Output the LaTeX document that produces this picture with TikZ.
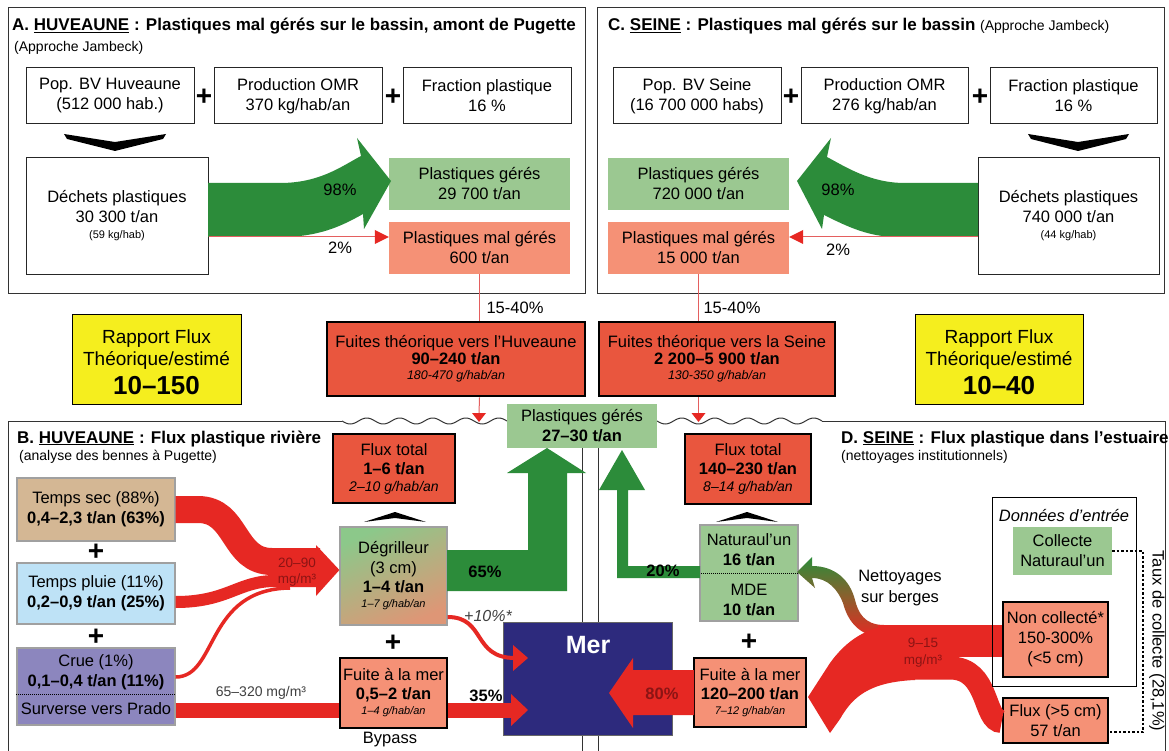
\documentclass[tikz,border=0pt]{standalone}
\usepackage{fontspec}
\setmainfont{Liberation Sans}
\usetikzlibrary{calc}
\definecolor{dgreen}{RGB}{44,140,58}
\definecolor{lgreen}{RGB}{155,200,145}
\definecolor{salmon}{RGB}{245,145,118}
\definecolor{fred}{RGB}{233,86,62}
\definecolor{rflow}{RGB}{230,40,35}
\definecolor{lred}{RGB}{228,95,95}
\definecolor{yel}{RGB}{245,238,30}
\definecolor{merblue}{RGB}{45,42,125}
\definecolor{tanc}{RGB}{212,183,148}
\definecolor{lblue}{RGB}{190,226,246}
\definecolor{lav}{RGB}{140,134,190}
\definecolor{dred}{RGB}{140,20,20}
\definecolor{gbord}{RGB}{160,160,160}
\definecolor{dtop}{RGB}{140,200,138}
\definecolor{dbot}{RGB}{222,150,118}
\newcommand\FS[2]{\fontsize{#1}{#2}\selectfont}
\newcommand\PB[7]{\node[#2, minimum width={#5-#3}, minimum height={#6-#4}] (#1) at ({(#3+#5)/2},{(#4+#6)/2}) {#7};}
\tikzset{
  basetxt/.style={inner sep=0pt, align=center, font=\FS{16.5}{20}},
  wbox/.style={basetxt, draw=black!85, line width=1pt, fill=white},
  gbox/.style={basetxt, fill=lgreen},
  sbox/.style={basetxt, fill=salmon},
  kbox/.style={basetxt, draw=black, line width=2.6pt, fill=fred},
  ksal/.style={basetxt, draw=black, line width=2.6pt, fill=salmon},
  ybox/.style={basetxt, draw=black, line width=1pt, fill=yel},
  cbox/.style={basetxt, draw=gbord, line width=1.2pt},
  lbl/.style={inner sep=0pt, font=\FS{16.5}{20}},
  pct/.style={inner sep=0pt, font=\FS{16.5}{20}\bfseries},
  plus/.style={inner sep=0pt, font=\FS{28}{30}\bfseries},
  ttl/.style={inner sep=0pt, anchor=base west, font=\FS{17}{20}\bfseries},
  subt/.style={inner sep=0pt, anchor=base west, font=\FS{14}{16}},
  bord/.style={draw=black!80, line width=1pt},
  thinred/.style={draw=lred, line width=1pt},
  small/.style={inner sep=0pt, font=\FS{13.5}{15}},
}
\begin{document}
\begin{tikzpicture}[x=1pt,y=-1pt]
\path[use as bounding box, fill=white] (0,0) rectangle (1169,751);

% ---------- panels A and C
\draw[bord] (8,8) rectangle (585,293);
\draw[bord] (597,8) rectangle (1164,293);

% ---------- Panel A
\node[ttl] (tA) at (12,31) {A. \underline{HUVEAUNE} : Plastiques mal gérés sur le bassin, amont de Pugette};
\node[subt] (sA) at (14,52) {(Approche Jambeck)};
\PB{popA}{wbox}{26}{68}{194}{124}{Pop. BV Huveaune\\(512 000 hab.)}
\PB{omrA}{wbox}{214}{68}{382}{124}{Production OMR\\370 kg/hab/an}
\PB{fracA}{wbox}{403}{68}{571}{124}{Fraction plastique\\16 \%}
\node[plus] (pA1) at (204,97) {+};
\node[plus] (pA2) at (393,97) {+};
\fill (64,134) -- (115,142) -- (166,134) -- (163,139) -- (115,151) -- (67,139) -- cycle;
\PB{decA}{wbox}{26}{158}{208}{274}{Déchets plastiques\\30 300 t/an\\[-4pt]{\FS{11}{13}(59 kg/hab)}}
\PB{gerA}{gbox}{389}{158}{570}{210}{Plastiques gérés\\29 700 t/an}
\PB{malA}{sbox}{389}{222}{570}{274}{Plastiques mal gérés\\600 t/an}
\fill[dgreen] (208,183) -- (280,183) .. controls (320,183) and (342,166) .. (361,156) -- (357,138) -- (391,181) -- (364,229) -- (363,214) .. controls (340,227) and (318,237) .. (280,237) -- (208,237) -- cycle;
\node[lbl] (p98A) at (340,190) {98\%};
\draw[thinred] ([yshift=-21pt]decA.east) -- ([xshift=-10pt,yshift=11pt]malA.west);
\fill[rflow] ([yshift=11pt]malA.west) -- ++(-14,-7) -- ++(0,14) -- cycle;
\node[lbl] (p2A) at (340,248) {2\%};

% ---------- Panel C
\node[ttl] (tC) at (608,31) {C. \underline{SEINE} : Plastiques mal gérés sur le bassin \mdseries\FS{14}{16}(Approche Jambeck)};
\PB{popC}{wbox}{613}{68}{781}{124}{Pop. BV Seine\\(16 700 000 habs)}
\PB{omrC}{wbox}{801}{68}{968}{124}{Production OMR\\276 kg/hab/an}
\PB{fracC}{wbox}{990}{68}{1157}{124}{Fraction plastique\\16 \%}
\node[plus] (pC1) at (791,97) {+};
\node[plus] (pC2) at (980,97) {+};
\fill (1028,134) -- (1078,142) -- (1129,134) -- (1126,139) -- (1078,151) -- (1031,139) -- cycle;
\PB{decC}{wbox}{978}{158}{1159}{274}{Déchets plastiques\\740 000 t/an\\[-4pt]{\FS{11}{13}(44 kg/hab)}}
\PB{gerC}{gbox}{608}{158}{789}{210}{Plastiques gérés\\720 000 t/an}
\PB{malC}{sbox}{608}{222}{789}{274}{Plastiques mal gérés\\15 000 t/an}
\fill[dgreen] (978,183) -- (905,183) .. controls (870,183) and (846,167) .. (827,157) -- (831,138) -- (797,181) -- (822,229) -- (824,215) .. controls (850,228) and (870,237) .. (898,237) -- (978,237) -- cycle;
\node[lbl] (p98C) at (838,190) {98\%};
\draw[thinred] ([yshift=-21pt]decC.west) -- ([xshift=10pt,yshift=11pt]malC.east);
\fill[rflow] ([yshift=11pt]malC.east) -- ++(14,-7) -- ++(0,14) -- cycle;
\node[lbl] (p2C) at (838,250) {2\%};

% ---------- middle band
\PB{rapA}{ybox}{72}{314}{241}{404}{}
\node[inner sep=0pt, font=\FS{19}{22}, anchor=base] (rapA1) at (156.5,343) {Rapport Flux};
\node[inner sep=0pt, font=\FS{19}{22}, anchor=base] (rapA2) at (156.5,365) {Théorique/estimé};
\node[inner sep=0pt, font=\FS{26}{28}\bfseries, anchor=base] (rapA3) at (156.5,394) {10–150};
\PB{rapC}{ybox}{915}{314}{1083}{404}{}
\node[inner sep=0pt, font=\FS{19}{22}, anchor=base] (rapC1) at (999,343) {Rapport Flux};
\node[inner sep=0pt, font=\FS{19}{22}, anchor=base] (rapC2) at (999,365) {Théorique/estimé};
\node[inner sep=0pt, font=\FS{26}{28}\bfseries, anchor=base] (rapC3) at (999,394) {10–40};

\PB{fuiA}{kbox}{327}{322}{585}{396}{Fuites théorique vers l’Huveaune\\[-3pt]\textbf{90–240 t/an}\\[-5pt]{\FS{12.5}{14}\itshape 180-470 g/hab/an}}
\PB{fuiC}{kbox}{599}{322}{835}{396}{Fuites théorique vers la Seine\\[-3pt]\textbf{2 200–5 900 t/an}\\[-5pt]{\FS{12.5}{14}\itshape 130-350 g/hab/an}}
\draw[thinred] (malA.south) -- (malA.south |- fuiA.north);
\draw[thinred] (malC.south) -- (malC.south |- fuiC.north);
\node[lbl] (p15A) at (515,308) {15-40\%};
\node[lbl] (p15C) at (732,308) {15-40\%};

% ---------- panels B and D borders
\draw[bord] (8,752) -- (8,421) -- (342,421);
\draw[bord] plot[domain=342:507, samples=120, smooth] (\x, {421+3*sin(((\x-342)/33)*360)});
\draw[bord] plot[domain=657:822, samples=120, smooth] (\x, {421+3*sin(((\x-657)/33)*360)});
\draw[bord] (822,421) -- (1165,421) -- (1165,752);
\PB{gerM}{gbox}{507}{404}{657}{448}{Plastiques gérés\\\textbf{27–30 t/an}}
\draw[bord] (gerM.south -| 582,0) -- (582,752);
\draw[bord] (gerM.south -| 598,0) -- (598,752);
\draw[thinred] (fuiA.south -| malA.south) -- (479,414);
\fill[rflow] (472,413) -- (486,413) -- (479,422) -- cycle;
\draw[thinred] (fuiC.south -| malC.south) -- (698.5,414);
\fill[rflow] (691.5,413) -- (705.5,413) -- (698.5,422) -- cycle;

% ---------- Panel B
\node[ttl] (tB) at (17,443) {B. \underline{HUVEAUNE} : Flux plastique rivière};
\node[subt] (sB) at (19,460) {(analyse des bennes à Pugette)};
\PB{ftA}{kbox}{333}{434}{455}{503}{Flux total\\[-1pt]\textbf{1–6 t/an}\\[-3pt]{\FS{14}{16}\itshape 2–10 g/hab/an}}
\fill (364,522) -- (395,512) -- (426,522) -- (395,518) -- cycle;
\PB{secB}{cbox, fill=tanc}{17}{478}{175}{541}{Temps sec (88\%)\\\textbf{0,4–2,3 t/an (63\%)}}
\PB{pluB}{cbox, fill=lblue}{17}{563}{175}{624}{Temps pluie (11\%)\\\textbf{0,2–0,9 t/an (25\%)}}
\PB{crueB}{cbox, fill=lav}{17}{648}{175}{725}{}
\node[lbl] (crue1) at (96,662) {Crue (1\%)};
\node[pct] (crue2) at (96,682) {0,1–0,4 t/an (11\%)};
\draw[densely dotted, line width=1pt] ([yshift=-7.5pt]crueB.west) -- ([yshift=-7.5pt]crueB.east);
\node[lbl] (crue3) at (96,709) {Surverse vers Prado};
\node[plus] (pB1) at (96,552) {+};
\node[plus] (pB2) at (96,637) {+};
\PB{degB}{cbox, top color=dtop, bottom color=dbot, shading angle=25}{340}{527}{447}{625}{Dégrilleur\\(3 cm)\\[-1pt]\textbf{1–4 t/an}\\[-5pt]{\FS{11}{13}\itshape 1–7 g/hab/an}}
\draw[rflow, line width=27pt] (secB.east) -- (198,509.5) .. controls (238,509.5) and (232,561.5) .. (272,561.5) -- (320,561.5);
\draw[rflow, line width=12pt] ([yshift=-8.5pt]pluB.east) .. controls (228,602) and (238,581) .. (275,581) -- (320,581);
\draw[rflow, line width=3.5pt] ([yshift=9.5pt]crueB.east) .. controls (218,677) and (205,589) .. (290,588);
\fill[rflow] (316,545) -- ([yshift=6pt]degB.west) -- (316,596) -- cycle;
\node[small, text=dred] (c2090a) at (297,563) {20–90};
\node[small, text=dred] (c2090b) at (297,580) {mg/m³};
\PB{fuiB}{ksal}{340}{658}{447}{728}{Fuite à la mer\\[-1pt]\textbf{0,5–2 t/an}\\[-5pt]{\FS{11}{13}\itshape 1–4 g/hab/an}}
\draw[rflow, line width=15pt] ([yshift=-23.5pt]crueB.east) -- ([yshift=-17pt]fuiB.west);
\node[inner sep=0pt, font=\FS{14}{16}, text=black!75] (c65) at (261,693) {65–320 mg/m³};
\node[lbl] (byp) at (390,740) {Bypass};
\node[plus] (pB3) at (393,643) {+};
\fill[dgreen] (447,550) -- (528,550) -- (528,473) -- (507,473) -- (547,448) -- (586,473) -- (567,473) -- (567,591) -- (447,591) -- cycle;
\node[pct] (p65) at (485,572) {65\%};

% ---------- Mer
\node[fill=merblue, draw=black!60, line width=0.8pt, minimum width=169, minimum height=113, inner sep=0pt] (mer) at (587.5,678.5) {};
\node[inner sep=0pt, font=\FS{25}{28}\bfseries, text=white] (merT) at (588,645) {Mer};
\draw[rflow, line width=4pt] ([yshift=-41pt]degB.east) .. controls (486,617) and (472,658) .. (515,658);
\fill[rflow] (513,645) -- (528,658) -- (513,671) -- cycle;
\node[inner sep=0pt, font=\FS{16}{18}\itshape, text=black!75] (p10) at (488,616) {+10\%*};
\draw[rflow, line width=15pt] ([yshift=-17pt]fuiB.east) -- (513,710);
\fill[rflow] (511,694) -- (528,710) -- (511,726) -- cycle;
\node[pct] (p35) at (486,696) {35\%};

% ---------- Panel D
\node[ttl] (tD) at (841,443) {D. \underline{SEINE} : Flux plastique dans l’estuaire};
\node[subt] (sD) at (841,460) {(nettoyages institutionnels)};
\PB{ftC}{kbox}{685}{434}{811}{504}{Flux total\\[-1pt]\textbf{140–230 t/an}\\[-3pt]{\FS{14}{16}\itshape 8–14 g/hab/an}}
\fill (716,522) -- (747,512) -- (778,522) -- (747,518) -- cycle;
\PB{natD}{cbox, fill=lgreen}{700}{525}{798}{621}{}
\draw[densely dotted, line width=1pt] (natD.west) -- (natD.east);
\node[lbl] (nat1) at (749,540) {Naturaul’un};
\node[pct] (nat2) at (749,560) {16 t/an};
\node[lbl] (nat3) at (749,590) {MDE};
\node[pct] (nat4) at (749,610) {10 t/an};
\fill[dgreen] (700,566) -- (628,566) -- (628,490) -- (645,490) -- (622,450) -- (599,490) -- (617,490) -- (617,578) -- (700,578) -- cycle;
\node[pct] (p20) at (663,571) {20\%};
\node[plus] (pD1) at (749,642) {+};
\PB{fuiD}{ksal}{694}{658}{806}{727}{Fuite à la mer\\[-1pt]\textbf{120–200 t/an}\\[-5pt]{\FS{11}{13}\itshape 7–12 g/hab/an}}
\fill[rflow] (694,670) -- (633,670) -- (633,658) -- (609,693) -- (633,728) -- (633,715) -- (694,715) -- cycle;
\node[pct, text=dred] (p80) at (662,694) {80\%};

\PB{colD}{gbox}{1013}{527}{1112}{575}{Collecte\\Naturaul’un}
\PB{noncD}{ksal}{1003}{602}{1108}{677}{Non collecté*\\150-300\%\\(<5 cm)}
\PB{fluxD}{ksal}{1003}{698}{1108}{743}{Flux (>5 cm)\\57 t/an}
\shade[top color=dgreen, bottom color=rflow, middle color={rgb,255:red,140;green,95;blue,45}] (884,625) .. controls (864,625) and (858,612) .. (855,600) .. controls (850,580) and (835,566) .. (812,566) -- (812,557) -- (797,572) -- (815,588) -- (812,578) .. controls (828,578) and (838,590) .. (843,603) .. controls (848,622) and (860,637) .. (884,637) -- cycle;
\draw[rflow, line width=32pt] (noncD.west |- 0,641) -- (878,641);
\draw[rflow, line width=23pt] ([yshift=-1pt]fluxD.west) .. controls (983,721.5) and (990,668) .. (950,668) -- (890,668);
\fill[rflow] (892,625) .. controls (862,628) and (843,645) .. (830,663) -- (808,697) -- (830,733) -- (840,719) .. controls (852,698) and (868,682) .. (915,680) -- (915,650) -- cycle;
\node[small, text=dred] (c915a) at (923,643) {9–15};
\node[small, text=dred] (c915b) at (923,661) {mg/m³};
\node[lbl] (net1) at (900,578) {Nettoyages};
\node[lbl] (net2) at (900,598) {sur berges};
\node[draw=black, line width=0.8pt, minimum width=144, minimum height=189, inner sep=0pt] (donD) at (1064,591.5) {};
\node[inner sep=0pt, font=\FS{16.5}{20}\itshape] (donT) at (1064,516) {Données d’entrée};
\draw[line width=2.5pt, dash pattern=on 2.5pt off 2pt] (colD.east) -- ++(31,0) |- ([yshift=-11.5pt]fluxD.east);
\node[lbl, rotate=-90] (taux) at (1157,641) {Taux de collecte (28,1\%)};
\end{tikzpicture}
\end{document}
